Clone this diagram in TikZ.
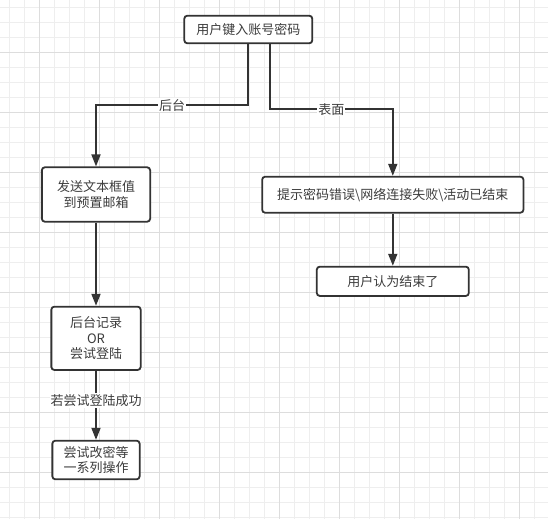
\documentclass[tikz,border=0pt]{standalone}
\usepackage{fontspec}
\setmainfont{Noto Sans CJK SC}
\usetikzlibrary{arrows.meta}
\definecolor{ink}{HTML}{333333}
\definecolor{tink}{HTML}{3C3C3C}
\definecolor{gminor}{HTML}{EEEEEE}
\definecolor{gmajor}{HTML}{DDDDDD}
\tikzset{
  stepbox/.style={draw=ink, line width=1.8pt, rounded corners=3pt, fill=white, text=tink,
    align=center, inner sep=0pt, font=\fontsize{13pt}{15.5pt}\selectfont},
  conn/.style={draw=ink, line width=1.8pt, -{Triangle[length=12pt,width=9pt]}},
  lbl/.style={fill=white, text=tink, inner sep=1pt, font=\fontsize{13pt}{15.5pt}\selectfont},
  gminorline/.style={draw=gminor, line width=0.8pt},
  gmajorline/.style={draw=gmajor, line width=0.8pt},
}
\begin{document}
\begin{tikzpicture}[x=1pt,y=-1pt]
\useasboundingbox[fill=white] (0,0) rectangle (548,519);
% grid
\foreach \x in {9.3,24.3,...,548} \draw[gminorline] (\x,0) -- (\x,519);
\foreach \y in {7.3,22.3,...,519} \draw[gminorline] (0,\y) -- (548,\y);
\foreach \x in {39.3,99.3,...,548} \draw[gmajorline] (\x,0) -- (\x,519);
\foreach \y in {52.3,112.3,...,519} \draw[gmajorline] (0,\y) -- (548,\y);
% nodes
\node[stepbox, minimum width=128pt, minimum height=27.6pt] (top) at (248.3,29.5) {用户键入账号密码};
\node[stepbox, minimum width=108.3pt, minimum height=54.4pt] (box1) at (96,194.5) {发送文本框值\\到预置邮箱};
\node[stepbox, minimum width=261.3pt, minimum height=36pt] (right) at (392.8,194.7) {提示密码错误\textbackslash 网络连接失败\textbackslash 活动已结束};
\node[stepbox, minimum width=152pt, minimum height=29.3pt] (res) at (392.8,281.3) {用户认为结束了};
\node[stepbox, minimum width=89.3pt, minimum height=63.3pt] (box2) at (96,338.3) {后台记录\\OR\\尝试登陆};
\node[stepbox, minimum width=87.3pt, minimum height=38.6pt] (box3) at (96,460) {尝试改密等\\一系列操作};
% connectors
\coordinate (b1) at (248.3,105.3);
\coordinate (b2) at (96,105.3);
\draw[conn] (top.south) -- (b1) -- node[lbl]{后台} (b2) -- (box1.north);
\coordinate (c0) at (270,43.3);
\coordinate (c1) at (270,109.3);
\coordinate (c2) at (392.8,109.3);
\draw[conn] (c0) -- (c1) -- node[lbl]{表面} (c2) -- (right.north);
\draw[conn] (right.south) -- (res.north);
\draw[conn] (box1.south) -- (box2.north);
\draw[conn] (box2.south) -- node[lbl, pos=0.43]{若尝试登陆成功} (box3.north);
\end{tikzpicture}
\end{document}
